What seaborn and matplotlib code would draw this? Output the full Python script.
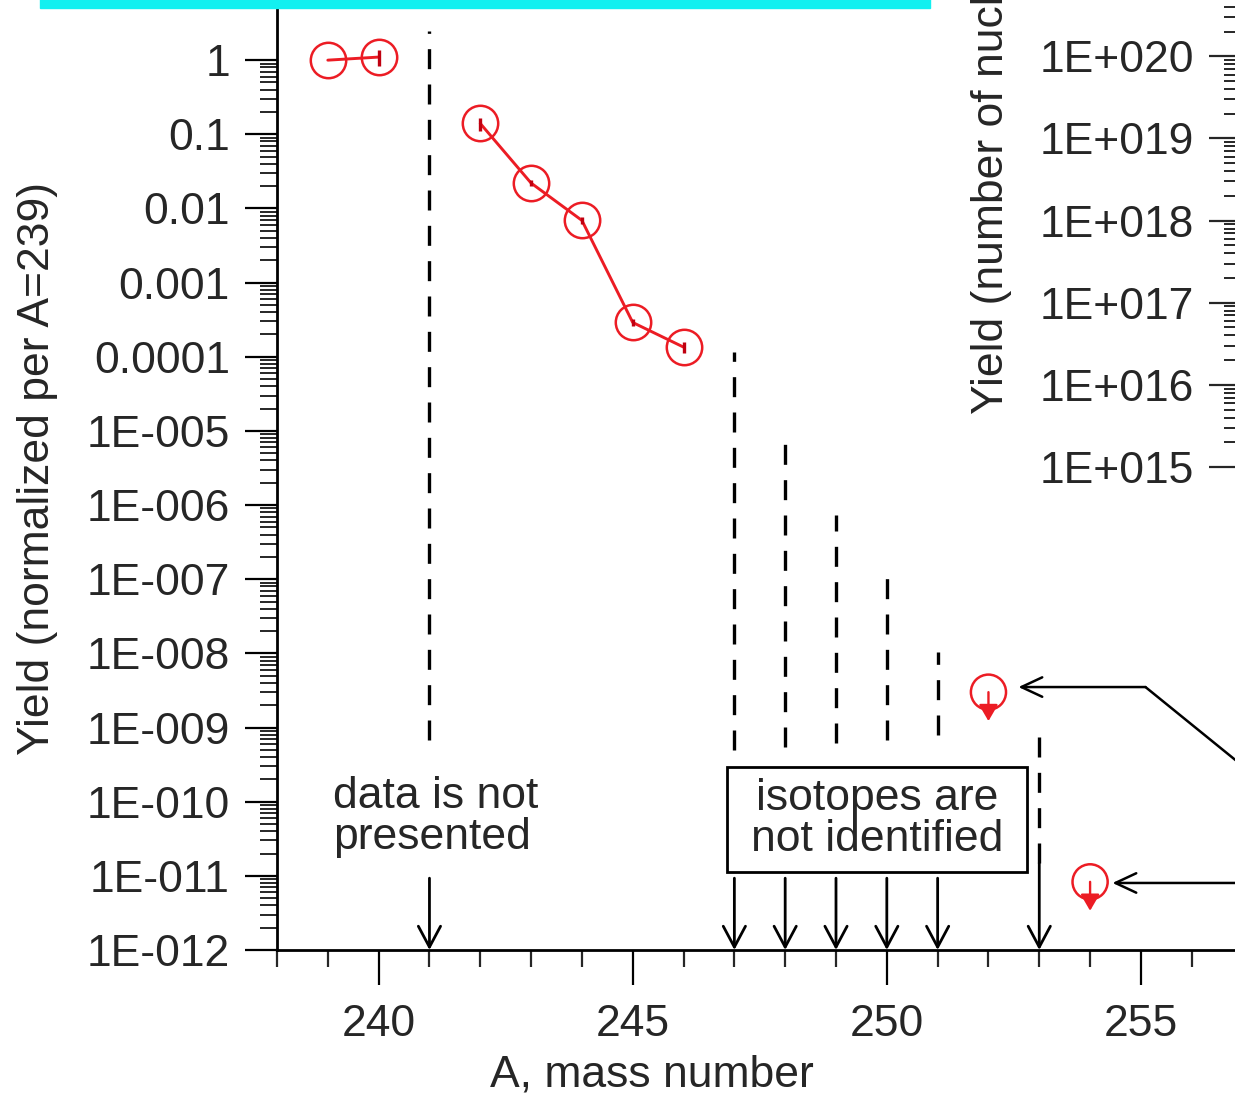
import numpy as np
import pandas as pd
import matplotlib
matplotlib.use("Agg")
import matplotlib.pyplot as plt
import seaborn as sns
from matplotlib.patches import Rectangle
from matplotlib.ticker import FixedLocator, FixedFormatter, MultipleLocator, NullFormatter, LogLocator

# ---- data -------------------------------------------------------------
mass_measured = [239, 240, 242, 243, 244, 245, 246]
yield_measured = [1.0, 1.1, 0.14, 0.022, 0.0069, 2.9e-4, 1.35e-4]
segment = [0, 0, 1, 1, 1, 1, 1]
rel_err = [0.0, 0.25, 0.2, 0.1, 0.1, 0.1, 0.18]

mass_limit = [252, 254]
yield_limit = [3.0e-9, 8.3e-12]

# isotopes without data: dashed guide ranges and arrows to the axis
mass_missing = [241, 247, 248, 249, 250, 251, 253]
guide_top = [2.5, 1.16e-4, 7.5e-6, 7.3e-7, 1.14e-7, 1.04e-8, 8.4e-10]
guide_bottom = [6.8e-10, 5.0e-10, 5.5e-10, 6.2e-10, 6.8e-10, 7.9e-10, 1.49e-11]
arrow_start = [9.3e-12, 9.3e-12, 9.3e-12, 9.3e-12, 9.3e-12, 9.3e-12, 1.49e-11]

left_ticks = [1e0, 1e-1, 1e-2, 1e-3, 1e-4, 1e-5, 1e-6, 1e-7, 1e-8, 1e-9, 1e-10, 1e-11, 1e-12]
left_labels = ["1", "0.1", "0.01", "0.001", "0.0001", "1E-005", "1E-006", "1E-007",
               "1E-008", "1E-009", "1E-010", "1E-011", "1E-012"]
right_ticks = [1e15, 1e16, 1e17, 1e18, 1e19, 1e20]
right_labels = ["1E+015", "1E+016", "1E+017", "1E+018", "1E+019", "1E+020"]

# ---- style ------------------------------------------------------------
sns.set_style("ticks")
plt.rcParams["font.family"] = ["Liberation Sans", "DejaVu Sans"]
FS = 32
RED = "#ec1c24"

W, H = 1235, 1094
fig = plt.figure(figsize=(W / 100, H / 100), dpi=100)


def px_box(left, top, right, bottom):
    return [left / W, (H - bottom) / H, (right - left) / W, (bottom - top) / H]


ax = fig.add_axes(px_box(277, -14, 1395, 950))
ax.set_yscale("log")
ax.set_xlim(238, 260)
ax.set_ylim(1e-12, 10)

df = pd.DataFrame({"A": mass_measured, "Y": yield_measured, "seg": segment})
sns.lineplot(data=df, x="A", y="Y", units="seg", estimator=None, ax=ax,
             color=RED, lw=2.1, marker="o", markersize=25.5,
             markerfacecolor="none", markeredgecolor=RED, markeredgewidth=1.8,
             legend=False, zorder=5)
err = np.array(yield_measured) * np.array(rel_err)
ax.errorbar(mass_measured, yield_measured, yerr=err, fmt="none",
            ecolor="#c00010", elinewidth=2.4, capsize=0, zorder=6)

lim = pd.DataFrame({"A": mass_limit, "Y": yield_limit})
sns.scatterplot(data=lim, x="A", y="Y", ax=ax, s=640, marker="o",
                facecolor="none", edgecolor=RED, linewidth=1.8, zorder=5)
for a, y in zip(mass_limit, yield_limit):
    ax.annotate("", xy=(a, y * 10 ** -0.39), xytext=(a, y),
                arrowprops=dict(arrowstyle="-|>,head_length=0.55,head_width=0.32",
                                color=RED, lw=1.7, mutation_scale=18,
                                shrinkA=0, shrinkB=0), zorder=6)

ax.vlines(mass_missing, guide_bottom, guide_top, colors="black", lw=2.4,
          linestyles=[(0, (6.0, 4.6))], zorder=3)
for a, y0 in zip(mass_missing, arrow_start):
    ax.annotate("", xy=(a, 1e-12), xytext=(a, y0),
                arrowprops=dict(arrowstyle="->,head_length=0.75,head_width=0.4",
                                color="black", lw=2.0, mutation_scale=20,
                                shrinkA=0, shrinkB=0))

ax.text(239.1, 10 ** -10.21, "data is not\npresented", fontsize=FS,
        ha="left", va="center", linespacing=1.0)

# framed note
ax.add_patch(Rectangle((246.86, 10 ** -10.948), 252.76 - 246.86,
                       10 ** -9.532 - 10 ** -10.948, facecolor="white",
                       edgecolor="black", lw=2.0, zorder=6))
ax.text(249.81, 10 ** -10.24, "isotopes are\nnot identified", fontsize=FS,
        ha="center", va="center", linespacing=1.0, zorder=7)

# pointers from the right-hand panel
pointer_x = [258.14, 255.09, 252.59]
pointer_y = [10 ** -10.15, 10 ** -8.454, 10 ** -8.454]
ax.plot(pointer_x[:2], pointer_y[:2], color="black", lw=1.8, clip_on=False)
ax.annotate("", xy=(pointer_x[2], pointer_y[2]), xytext=(pointer_x[1], pointer_y[1]),
            arrowprops=dict(arrowstyle="->,head_length=0.75,head_width=0.35",
                            color="black", lw=1.8, mutation_scale=20,
                            shrinkA=0, shrinkB=0))
ax.annotate("", xy=(254.44, 10 ** -11.096), xytext=(258.14, 10 ** -11.096),
            arrowprops=dict(arrowstyle="->,head_length=0.75,head_width=0.35",
                            color="black", lw=1.8, mutation_scale=20,
                            shrinkA=0, shrinkB=0))

# axes formatting
minor_left = [m * 10.0 ** e for e in range(-12, 0) for m in range(2, 10)]
ax.yaxis.set_major_locator(FixedLocator(left_ticks))
ax.yaxis.set_major_formatter(FixedFormatter(left_labels))
ax.yaxis.set_minor_locator(FixedLocator(minor_left))
ax.yaxis.set_minor_formatter(NullFormatter())
ax.xaxis.set_major_locator(FixedLocator([240, 245, 250, 255]))
ax.xaxis.set_minor_locator(MultipleLocator(1))
ax.tick_params(axis="both", which="major", labelsize=FS, width=1.6, color="black")
ax.tick_params(axis="y", which="major", length=23, pad=11)
ax.tick_params(axis="y", which="minor", length=12, width=1.4)
ax.tick_params(axis="x", which="major", length=25, pad=14)
ax.tick_params(axis="x", which="minor", length=12, width=1.6)
ax.set_xlabel("A, mass number", fontsize=FS)
ax.set_ylabel("Yield (normalized per A=239)", fontsize=FS)
ax.xaxis.set_label_coords((652 - 277) / 1118, -(1054 - 950) / 964)
ax.yaxis.set_label_coords((58 - 277) / 1118, 0.5)
sns.despine(ax=ax)
for s in ("left", "bottom"):
    ax.spines[s].set_linewidth(2.0)
    ax.spines[s].set_color("black")

# right-hand panel (absolute yield)
ax2 = fig.add_axes(px_box(1241, -108, 1641, 467))
ax2.set_yscale("log")
ax2.set_ylim(1e15, 1e22)
ax2.set_xlim(0, 1)
ax2.yaxis.set_major_locator(FixedLocator(right_ticks))
ax2.yaxis.set_major_formatter(FixedFormatter(right_labels))
ax2.yaxis.set_minor_locator(LogLocator(base=10, subs=np.arange(2, 10), numticks=50))
ax2.yaxis.set_minor_formatter(NullFormatter())
ax2.set_xticks([])
ax2.tick_params(axis="y", which="major", labelsize=FS, length=23, width=1.6, pad=11)
ax2.tick_params(axis="y", which="minor", length=12, width=1.4)
ax2.set_ylabel("Yield (number of nuclei)", fontsize=FS)
ax2.yaxis.set_label_coords((1012 - 1241) / 400, 0.5)
sns.despine(ax=ax2)
for s in ("left", "bottom"):
    ax2.spines[s].set_linewidth(2.0)
    ax2.spines[s].set_color("black")
ax2.patch.set_alpha(0)

# heading strip at the top
fig.add_artist(Rectangle((40 / W, (H - 8) / H), 890 / W, 12 / H,
                         transform=fig.transFigure, color="#12f0f0", zorder=10))

fig.savefig("out.png", dpi=100)
